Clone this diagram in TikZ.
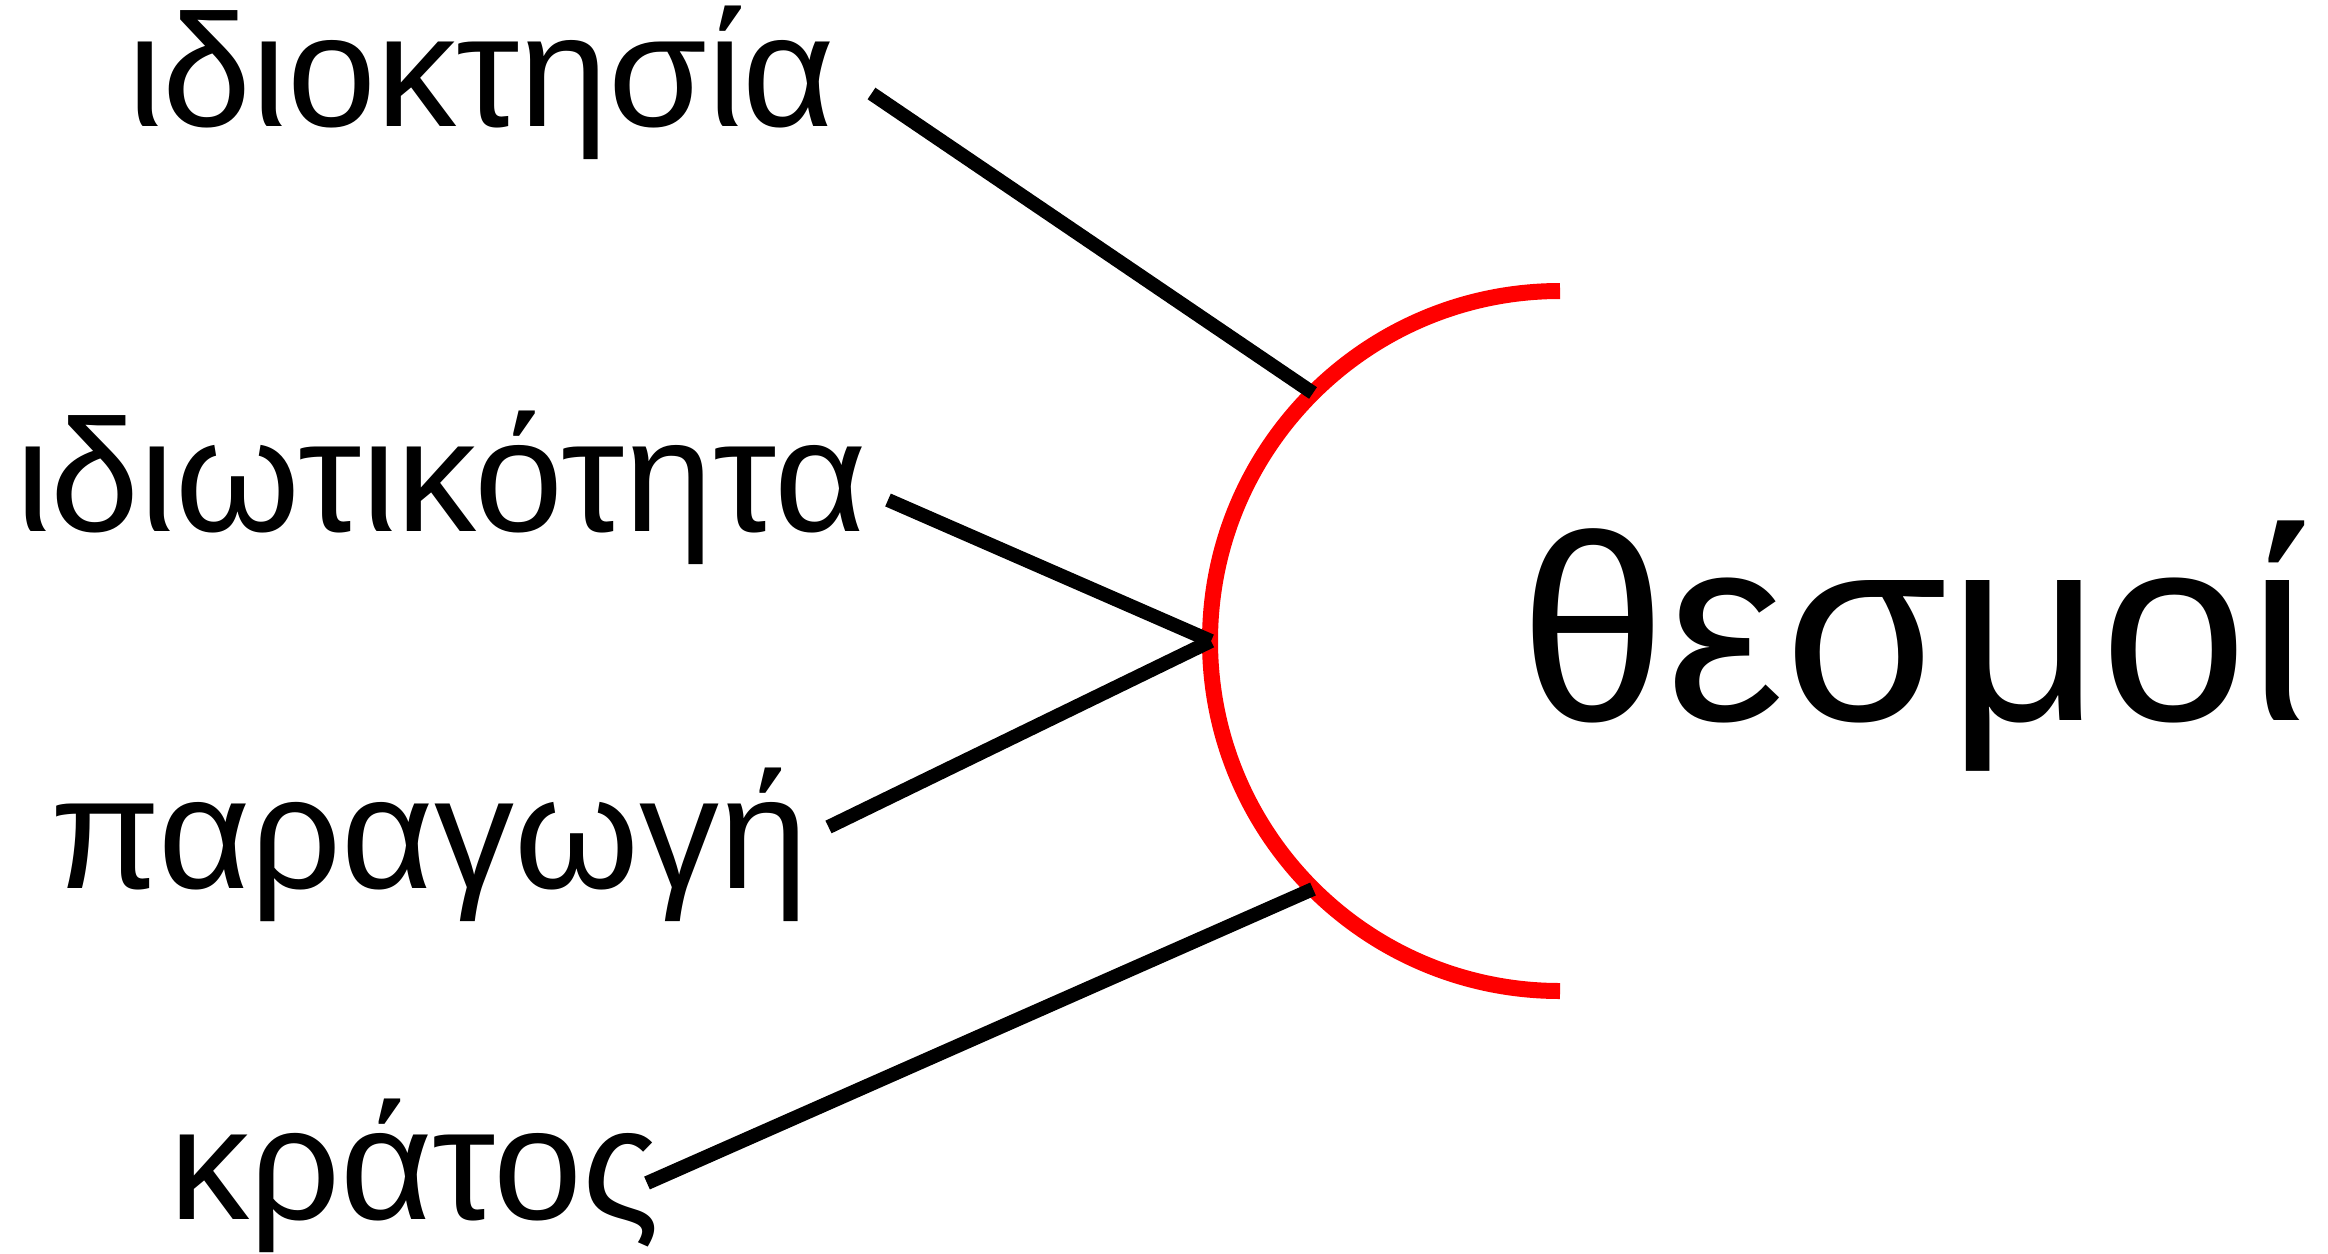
\documentclass[tikz,border=0pt]{standalone}
\usepackage{fontspec}
\setmainfont{Liberation Sans}
\begin{document}
\begin{tikzpicture}[x=1pt,y=-1pt,
  lbl/.style={inner sep=0pt, anchor=base west, font=\fontsize{160}{175}\selectfont},
  big/.style={inner sep=0pt, anchor=base west, font=\fontsize{265}{285}\selectfont},
  conn/.style={line width=14pt, black},
  rarc/.style={line width=16pt, red}]
\useasboundingbox (0,0) rectangle (2328,1253);
% labels
\node[lbl] (t1) at (127,126) {ιδιοκτησία};
\node[lbl] (t2) at (15,531.5) {ιδιωτικότητα};
\node[lbl] (t3) at (50,888) {παραγωγή};
\node[lbl] (t4) at (169,1219) {κράτος};
\node[big] (th) at (1519,720) {θεσμοί};
% arc
\coordinate (c) at (1560,641);
\draw[rarc] (1560,291) arc[start angle=270, end angle=90, radius=350];
\coordinate (p1) at (1313,393);
\coordinate (p2) at (1211,641);
\coordinate (p4) at (1313,889);
% connector free ends
\coordinate (s1) at (871.5,93.5);
\coordinate (s2) at (888,500);
\coordinate (s3) at (828.5,827);
\coordinate (s4) at (647,1183);
\draw[conn] (s1) -- (p1);
\draw[conn] (s2) -- (p2);
\draw[conn] (p2) -- (s3);
\draw[conn] (s4) -- (p4);
\end{tikzpicture}
\end{document}
